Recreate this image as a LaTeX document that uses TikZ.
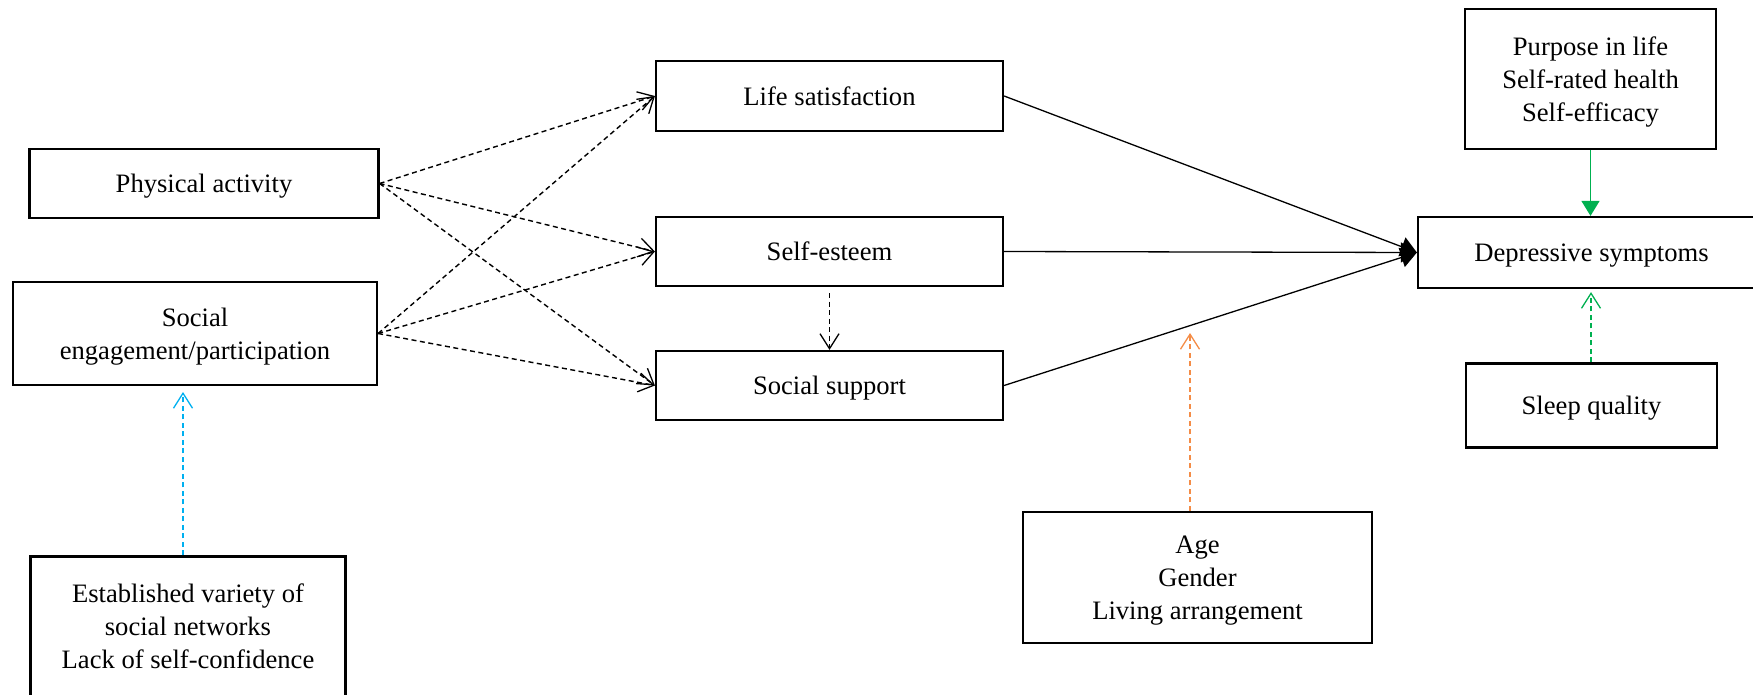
\documentclass[tikz,border=0pt]{standalone}
\usepackage{fontspec}
\setmainfont{Liberation Serif}
\usetikzlibrary{arrows.meta}
\definecolor{grn}{RGB}{0,176,80}
\definecolor{orn}{RGB}{244,140,70}
\definecolor{blu}{RGB}{0,176,240}
\begin{document}
\begin{tikzpicture}[x=1pt,y=-1pt,
  box/.style={draw, line width=2.2pt, rectangle, inner sep=0pt, align=center, text depth=0pt, font=\fontsize{26.6}{33}\selectfont},
  dsh/.style={line width=1.4pt, dash pattern=on 5pt off 3.5pt},
  openarr/.style={-{Straight Barb[length=15pt,width=19pt,line width=1.3pt]}},
  solidarr/.style={line width=1.3pt, -{Triangle[length=16pt,width=20pt]}},
]
\useasboundingbox (0,0) rectangle (1753,695);

\node[box, minimum width=347pt, minimum height=70pt] (life) at (829.5,96) {Life satisfaction};
\node[box, minimum width=347pt, minimum height=69pt] (self) at (829.5,251.5) {Self-esteem};
\node[box, minimum width=347pt, minimum height=69pt] (support) at (829.5,385.5) {Social support};
\node[box, minimum width=349pt, minimum height=69pt] (phys) at (204,183.5) {Physical activity};
\node[box, minimum width=364pt, minimum height=103pt] (social) at (195,333.5) {Social\\engagement/participation};
\node[box, minimum width=315pt, minimum height=140pt] (estab) at (188,626.5) {Established variety of\\social networks\\Lack of self-confidence};
\node[box, minimum width=349pt, minimum height=131pt] (age) at (1197.5,577.5) {Age\\Gender\\Living arrangement};
\node[box, minimum width=347pt, minimum height=71pt] (dep) at (1591.5,252.5) {Depressive symptoms};
\node[box, minimum width=251pt, minimum height=140pt] (purpose) at (1590.5,79) {Purpose in life\\Self-rated health\\Self-efficacy};
\node[box, minimum width=251pt, minimum height=84pt] (sleep) at (1591.5,405.5) {Sleep quality};

\coordinate (ot) at (1190,333);
\coordinate (bt) at (183,392);

\foreach \s in {phys,social}
  \foreach \t in {life,self,support}
    \draw[dsh,openarr] (\s.east) -- (\t.west);

\draw[dsh,openarr] ([yshift=-6pt]self.south) -- (support.north);

\foreach \t in {life,self,support}
  \draw[solidarr] (\t.east) -- (dep.west);

\draw[line width=1.3pt, grn, -{Triangle[length=15pt,width=18pt]}] (purpose.south) -- (purpose.south |- dep.north);
\draw[dsh, grn, openarr, shorten >=3pt] ([xshift=-0.5pt]sleep.north) -- ([xshift=-0.5pt]sleep.north |- dep.south);
\draw[dsh, orn, openarr] ([xshift=-7.5pt]age.north) -- (ot);
\draw[dsh, blu, openarr] ([xshift=-5pt]estab.north) -- (bt);
\end{tikzpicture}
\end{document}
